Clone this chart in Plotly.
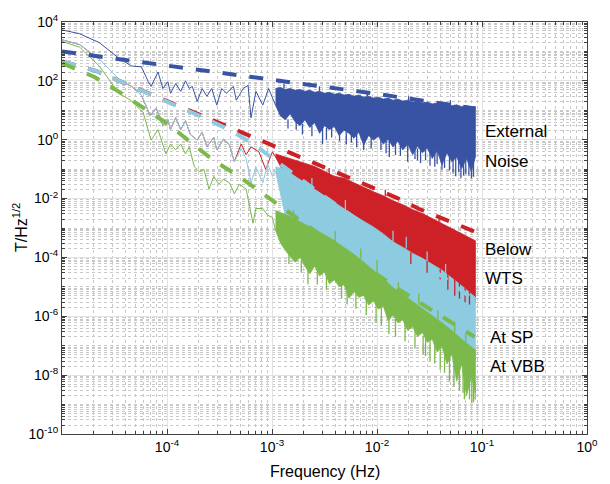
import plotly.graph_objects as go

# ---------------- data (frequency in Hz, amplitude in T/Hz^1/2) ----------------
# thin low-frequency parts of the spectra
blue_line_f = [1.0e-5, 1.47e-5, 2.26e-5, 3.48e-5, 4.59e-5, 5.70e-5, 6.62e-5, 7.06e-5, 8.21e-5, 9.14e-5,
               1.02e-4, 1.08e-4, 1.21e-4, 1.35e-4, 1.50e-4, 1.63e-4, 1.74e-4, 1.94e-4, 2.16e-4, 2.40e-4,
               2.67e-4, 2.98e-4, 3.32e-4, 3.69e-4, 4.29e-4, 4.57e-4, 5.32e-4, 5.92e-4, 6.31e-4, 7.03e-4,
               8.17e-4, 9.29e-4, 1.08e-3]
blue_line_v = [5400, 4000, 2000, 590, 320, 300, 95, 65, 200, 55,
               93, 38, 81, 44, 100, 55, 65, 20, 55, 30,
               55, 15, 55, 38, 65, 22, 55, 70, 5.6, 44,
               15, 55, 15]

red_line_f = [1.0e-5, 1.47e-5, 2.26e-5, 3.63e-5, 4.59e-5, 5.70e-5, 6.92e-5, 7.87e-5, 9.14e-5, 1.02e-4,
              1.08e-4, 1.21e-4, 1.35e-4, 1.50e-4, 1.67e-4, 1.94e-4, 2.16e-4, 2.40e-4, 2.79e-4, 2.98e-4,
              3.46e-4, 3.94e-4, 4.38e-4, 5.09e-4, 5.67e-4, 6.31e-4, 7.50e-4, 8.71e-4, 1.01e-3, 1.08e-3]
red_line_v = [2500, 1700, 550, 100, 65, 33, 6.5, 12, 3.0, 4.8,
              2.2, 5.6, 2.2, 4.4, 1.5, 0.97, 1.8, 0.57, 1.2, 0.45,
              1.04, 0.66, 0.18, 0.71, 0.31, 0.57, 0.39, 0.098, 0.39, 0.26]

cyan_line_f = [1.0e-5, 1.47e-5, 2.26e-5, 3.63e-5, 4.59e-5, 5.70e-5, 6.92e-5, 7.87e-5, 9.14e-5, 1.02e-4,
               1.08e-4, 1.21e-4, 1.35e-4, 1.50e-4, 1.67e-4, 1.94e-4, 2.16e-4, 2.40e-4, 2.79e-4, 2.98e-4,
               3.46e-4, 3.94e-4, 4.38e-4, 5.09e-4, 5.67e-4, 6.31e-4, 7.03e-4, 8.17e-4, 9.09e-4, 1.01e-3,
               1.08e-3]
cyan_line_v = [2500, 1700, 550, 100, 65, 33, 6.5, 12, 3.0, 4.8,
               2.2, 5.6, 2.2, 4.4, 1.5, 0.97, 1.8, 0.57, 1.2, 0.45,
               1.04, 0.66, 0.18, 0.49, 0.23, 0.034, 0.12, 0.034, 0.15, 0.057,
               0.084]

green_line_f = [1.0e-5, 1.47e-5, 2.26e-5, 3.48e-5, 4.59e-5, 5.94e-5, 7.06e-5, 8.21e-5, 9.75e-5, 1.08e-4,
                1.21e-4, 1.35e-4, 1.50e-4, 1.63e-4, 1.82e-4, 2.02e-4, 2.25e-4, 2.51e-4, 2.79e-4, 3.11e-4,
                3.46e-4, 3.94e-4, 4.38e-4, 4.88e-4, 5.67e-4, 6.05e-4, 6.59e-4, 7.03e-4, 8.17e-4, 9.09e-4,
                1.01e-3, 1.08e-3]
green_line_v = [2200, 1400, 320, 38, 21, 8.2, 0.97, 2.2, 0.33, 0.71,
                0.45, 0.71, 0.33, 0.57, 0.12, 0.084, 0.098, 0.021, 0.057, 0.031,
                0.046, 0.034, 0.0145, 0.031, 0.021, 7.3e-3, 1.46e-3, 4.6e-3, 4.6e-3, 2.7e-3,
                2.3e-3, 8.6e-4]

# dense high-frequency parts: envelopes
band_f = [1.08e-3, 1.34e-3, 1.66e-3, 2.06e-3, 2.55e-3, 3.16e-3, 3.92e-3, 4.86e-3, 6.03e-3, 7.47e-3,
          9.26e-3, 1.15e-2, 1.42e-2, 1.76e-2, 2.19e-2, 2.71e-2, 3.36e-2, 4.16e-2, 5.16e-2, 6.40e-2,
          8.65e-2]
fine_f = [1.08e-3, 1.20e-3, 1.34e-3, 1.49e-3, 1.66e-3, 1.85e-3, 2.06e-3, 2.29e-3, 2.55e-3, 2.84e-3,
          3.16e-3, 3.52e-3, 3.92e-3, 4.36e-3, 4.86e-3, 5.41e-3, 6.03e-3, 6.71e-3, 7.47e-3, 8.32e-3,
          9.26e-3, 1.03e-2, 1.15e-2, 1.28e-2, 1.42e-2, 1.58e-2, 1.76e-2, 1.96e-2, 2.19e-2, 2.43e-2,
          2.71e-2, 3.02e-2, 3.36e-2, 3.74e-2, 4.16e-2, 4.64e-2, 5.16e-2, 5.74e-2, 6.40e-2, 7.13e-2,
          7.93e-2, 8.65e-2]

blue_up_v = [55, 60, 51, 55, 48, 51, 44, 48, 41, 44,
             38, 41, 35, 38, 33, 35, 30, 33, 28, 30,
             26, 28, 24, 26, 22, 24, 20.5, 22, 19, 20.5,
             17.7, 19, 16.5, 17.7, 15.3, 16.5, 14.3, 15.3, 13.3, 14.3,
             12.4, 13.3]
blue_lo_v = [15, 6.5, 4.8, 7.6, 4.1, 3.0, 4.8, 2.6, 3.8, 1.65,
             3.0, 2.2, 2.8, 1.4, 2.1, 1.65, 1.13, 1.8, 0.66, 1.4,
             0.97, 1.3, 0.71, 1.04, 0.57, 0.89, 0.45, 0.71, 0.31, 0.61,
             0.36, 0.52, 0.23, 0.42, 0.14, 0.36, 0.18, 0.26, 0.105, 0.23,
             0.084, 0.26]
red_up_v = [0.33, 0.26, 0.20, 0.155, 0.123, 0.084, 0.057, 0.049, 0.034, 0.025,
            0.017, 0.0124, 8.5e-3, 6.2e-3, 4.2e-3, 3.1e-3, 2.1e-3, 1.46e-3, 1.0e-3, 6.8e-4, 3.7e-4]
red_lo_v = [0.26, 0.06, 0.031, 0.018, 0.0115, 6.5e-3, 3.9e-3, 2.3e-3, 1.46e-3, 9.0e-4,
            5.8e-4, 3.2e-4, 1.86e-4, 1.1e-4, 6.9e-5, 4.3e-5, 2.75e-5, 1.6e-5, 1.1e-5, 5.1e-6, 2.8e-6]
cyan_up_v = [0.12, 0.098, 0.057, 0.034, 0.021, 0.0124, 7.3e-3, 4.3e-3, 2.7e-3, 1.7e-3,
             1.08e-3, 6.3e-4, 3.4e-4, 2.2e-4, 1.37e-4, 9.3e-5, 5.9e-5, 3.7e-5, 2.0e-5, 1.1e-5, 4.4e-6]
cyan_lo_v = [0.084, 2.5e-3, 1.08e-3, 6.8e-4, 4.7e-4, 2.7e-4, 1.7e-4, 1.0e-4, 5.9e-5, 3.2e-5,
             1.7e-5, 8.8e-6, 4.4e-6, 2.8e-6, 1.5e-6, 8.8e-7, 5.2e-7, 2.8e-7, 1.5e-7, 7.7e-8, 3.3e-8]
green_up_v = [3.9e-3, 2.9e-3, 2.0e-3, 1.35e-3, 9.3e-4, 5.9e-4, 3.7e-4, 2.2e-4, 1.27e-4, 6.9e-5,
              3.7e-5, 1.9e-5, 9.5e-6, 5.5e-6, 3.3e-6, 1.9e-6, 1.1e-6, 6.0e-7, 3.3e-7, 1.65e-7, 7.1e-8]
green_lo_v = [8.6e-4, 3.2e-4, 1.72e-4, 1.09e-4, 6.9e-5, 1.0e-4, 5.1e-5, 2.75e-5, 5.1e-5, 2.36e-5,
              3.2e-5, 1.28e-5, 1.74e-5, 1.02e-5, 1.19e-5, 4.1e-6, 7.0e-6, 4.4e-6, 5.1e-6, 2.4e-6,
              3.3e-6, 1.77e-6, 2.2e-6, 7.0e-7, 1.11e-6, 6.0e-7, 7.6e-7, 3.3e-7, 4.45e-7, 2.07e-7,
              2.8e-7, 1.31e-7, 1.65e-7, 6.1e-8, 9.6e-8, 2.4e-8, 5.2e-8, 6.2e-9, 2.4e-8, 2.0e-9,
              9.1e-9, 2.5e-9]

# narrow noise spikes (frequency, value inside the band, spike tip)
blue_spk_f = [1.30e-3, 1.42e-3, 1.70e-3, 1.95e-3, 2.40e-3, 2.83e-3, 3.03e-3, 3.30e-3, 3.70e-3, 4.40e-3,
              5.10e-3, 5.70e-3, 6.40e-3, 7.47e-3, 8.10e-3, 8.80e-3, 1.09e-2, 1.22e-2, 1.31e-2, 1.50e-2,
              1.67e-2, 1.96e-2, 2.00e-2, 2.30e-2, 2.43e-2, 2.60e-2, 2.90e-2, 3.20e-2, 3.55e-2, 3.74e-2,
              4.16e-2, 4.40e-2, 4.90e-2, 5.00e-2, 5.30e-2, 5.62e-2, 6.00e-2, 6.30e-2, 6.68e-2, 7.00e-2,
              7.50e-2, 7.94e-2, 8.30e-2]
blue_spk_base = [55, 5.0, 5.0, 3.5, 3.0, 44, 3.0, 2.5, 2.5, 2.0,
                 1.8, 1.6, 1.5, 1.4, 30, 1.2, 1.0, 0.90, 1.0, 0.80,
                 0.70, 0.70, 21, 0.55, 0.50, 0.50, 0.45, 0.40, 0.38, 0.40,
                 0.40, 0.33, 0.30, 15, 0.28, 0.30, 0.25, 0.25, 0.20, 0.22,
                 0.20, 0.20, 0.20]
blue_spk_tip = [80, 2.4, 2.2, 1.5, 1.3, 65, 0.71, 1.0, 1.2, 0.90,
                0.70, 0.80, 0.55, 0.45, 45, 0.50, 0.45, 0.35, 0.26, 0.30,
                0.28, 0.18, 30, 0.22, 0.20, 0.16, 0.20, 0.13, 0.12, 0.15,
                0.098, 0.11, 0.09, 22, 0.075, 0.057, 0.08, 0.05, 0.06, 0.07,
                0.06, 0.049, 0.055]
red_spk_f = [3.5e-3, 1.2e-2, 2.1e-2, 3.0e-2, 3.9e-2, 4.0e-2, 4.73e-2, 5.5e-2, 6.1e-2, 6.9e-2, 7.6e-2]
red_spk_base = [0.07, 0.012, 1.5e-4, 7.5e-5, 1.6e-3, 4.0e-5, 2.8e-5, 1.8e-5, 1.4e-5, 9.0e-6, 7.0e-6]
red_spk_tip = [0.11, 0.02, 6.0e-5, 3.0e-5, 2.6e-3, 1.8e-5, 8.0e-6, 5.0e-6, 4.0e-6, 3.0e-6, 2.5e-6]
cyan_spk_f = [2.4e-3, 5.0e-3, 1.42e-2, 1.9e-2, 3.0e-2, 4.5e-2]
cyan_spk_base = [0.023, 4.0e-3, 3.4e-4, 2.0e-4, 7.5e-5, 3.0e-5]
cyan_spk_tip = [0.05, 9.0e-3, 8.0e-4, 5.0e-4, 1.6e-4, 6.0e-5]
green_spk_f = [1.45e-3, 1.6e-3, 1.9e-3, 2.2e-3, 2.7e-3, 3.3e-3, 4.0e-3, 4.6e-3, 5.2e-3, 6.3e-3,
               7.0e-3, 7.9e-3, 9.8e-3, 1.0e-2, 1.1e-2, 1.3e-2, 1.5e-2, 1.6e-2, 1.85e-2, 2.3e-2,
               2.5e-2, 2.75e-2, 2.9e-2, 3.2e-2, 3.55e-2, 3.8e-2, 4.0e-2, 4.4e-2, 4.9e-2, 5.4e-2,
               5.5e-2, 6.1e-2, 6.6e-2, 6.8e-2, 7.0e-2, 7.6e-2, 8.0e-2, 8.3e-2, 8.6e-2]
green_spk_base = [1.5e-4, 2.0e-3, 8.0e-5, 4.0e-5, 4.0e-5, 2.5e-5, 3.5e-4, 1.3e-5, 8.0e-6, 6.0e-6,
                  9.0e-5, 4.0e-6, 2.5e-6, 3.0e-5, 2.0e-6, 1.0e-6, 8.0e-7, 7.0e-6, 6.0e-7, 3.5e-7,
                  2.5e-6, 2.2e-7, 2.0e-7, 1.5e-7, 1.2e-7, 8.0e-7, 8.0e-8, 5.0e-8, 4.0e-8, 3.0e-8,
                  2.8e-7, 2.0e-8, 1.5e-8, 1.5e-8, 1.3e-7, 1.0e-8, 8.0e-9, 8.0e-9, 6.0e-9]
green_spk_tip = [6.0e-5, 4.0e-3, 3.0e-5, 1.2e-5, 1.2e-5, 8.0e-6, 8.0e-4, 4.0e-6, 2.5e-6, 1.8e-6,
                 2.0e-4, 1.1e-6, 6.0e-7, 8.0e-5, 5.0e-7, 2.5e-7, 2.0e-7, 1.4e-5, 1.4e-7, 8.0e-8,
                 6.0e-6, 5.0e-8, 4.5e-8, 3.0e-8, 2.5e-8, 1.6e-6, 1.5e-8, 1.2e-8, 6.0e-9, 4.0e-9,
                 6.0e-7, 3.0e-9, 2.5e-9, 1.5e-9, 2.6e-7, 1.5e-9, 1.1e-9, 1.2e-9, 1.5e-9]

# dashed model curves
blue_dash_f = [1.0e-5, 1.0e-4, 1.0e-3, 1.0e-2, 8.6e-2]
blue_dash_v = [1000, 330, 107, 36, 11.5]
red_dash_f = [1.0e-5, 2.1e-5, 3.9e-5, 6.9e-5, 1.26e-4, 2.24e-4, 4.0e-4, 7.1e-4, 1.29e-3, 2.29e-3,
              3.6e-3, 1.58e-2, 2.5e-2, 4.5e-2, 8.5e-2]
red_dash_v = [460, 220, 85, 35, 14.5, 6.2, 2.6, 1.05, 0.44, 0.18,
              0.091, 0.0102, 4.5e-3, 1.95e-3, 7.6e-4]
cyan_dash_f = [1.0e-5, 2.1e-5, 3.9e-5, 6.9e-5, 1.26e-4, 2.19e-4, 4.0e-4, 6.9e-4, 1.07e-3, 1.9e-3,
               3.16e-3, 1.62e-2, 2.5e-2, 4.8e-2, 8.5e-2]
cyan_dash_v = [460, 220, 85, 35, 14.5, 5.8, 2.1, 0.65, 0.2, 0.045,
               0.0117, 1.95e-4, 7.9e-5, 1.6e-5, 3.5e-6]
green_dash_f = [1.0e-5, 2.04e-5, 3.47e-5, 6.2e-5, 1.05e-4, 1.7e-4, 2.8e-4, 4.8e-4, 8.1e-4, 1.35e-3,
                2.29e-3, 3.6e-3, 1.7e-2, 2.95e-2, 4.7e-2, 8.5e-2]
green_dash_v = [400, 135, 43, 11, 3.2, 0.78, 0.195, 0.058, 0.015, 4.3e-3,
                1.05e-3, 3.3e-4, 7.2e-6, 2.1e-6, 7.8e-7, 2.0e-7]

x_tick_vals = [1e-4, 1e-3, 1e-2, 1e-1, 1e0]
x_tick_text = ["10<sup>-4</sup>", "10<sup>-3</sup>", "10<sup>-2</sup>", "10<sup>-1</sup>", "10<sup>0</sup>"]
y_tick_vals = [1e4, 1e2, 1e0, 1e-2, 1e-4, 1e-6, 1e-8, 1e-10]
y_tick_text = ["10<sup>4</sup>", "10<sup>2</sup>", "10<sup>0</sup>", "10<sup>-2</sup>", "10<sup>-4</sup>",
               "10<sup>-6</sup>", "10<sup>-8</sup>", "10<sup>-10</sup>"]

labels = [("External", 0.8022, 0.7334), ("Noise", 0.8022, 0.6623),
          ("Below", 0.8022, 0.4479), ("WTS", 0.8022, 0.3768),
          ("At SP", 0.8116, 0.2346), ("At VBB", 0.8116, 0.1635)]

# ---------------- styling ----------------
BLUE = "#3953A4"
RED = "#CD2027"
CYAN = "#8CCBE0"
GREEN = "#7BB94A"
FONT = "Liberation Sans, Arial, Helvetica, sans-serif"
AX = "#404040"

fig = go.Figure()


def add_line(f, v, color, width=1.0, dash=None):
    fig.add_trace(go.Scatter(x=f, y=v, mode="lines", showlegend=False, hoverinfo="skip",
                             line=dict(color=color, width=width, dash=dash)))


def add_band(fu, vu, fl, vl, color):
    fig.add_trace(go.Scatter(x=list(fu) + list(fl)[::-1], y=list(vu) + list(vl)[::-1],
                             mode="lines", fill="toself", fillcolor=color, showlegend=False,
                             hoverinfo="skip", line=dict(color=color, width=0.8)))


def add_spikes(f, base, tip, color):
    xs, ys = [], []
    for a, b, c in zip(f, base, tip):
        xs += [a, a, None]
        ys += [b, c, None]
    fig.add_trace(go.Scatter(x=xs, y=ys, mode="lines", showlegend=False, hoverinfo="skip",
                             connectgaps=False, line=dict(color=color, width=1.3)))


add_line(blue_line_f, blue_line_v, BLUE)
add_band(fine_f, blue_up_v, fine_f, blue_lo_v, BLUE)
add_line(red_line_f, red_line_v, RED)
add_band(band_f, red_up_v, band_f, red_lo_v, RED)
add_line(cyan_line_f, cyan_line_v, CYAN)
add_band(band_f, cyan_up_v, band_f, cyan_lo_v, CYAN)
add_line(green_line_f, green_line_v, GREEN)
add_band(band_f, green_up_v, fine_f, green_lo_v, GREEN)

add_spikes(blue_spk_f, blue_spk_base, blue_spk_tip, BLUE)
add_spikes(red_spk_f, red_spk_base, red_spk_tip, RED)
add_spikes(cyan_spk_f, cyan_spk_base, cyan_spk_tip, CYAN)
add_spikes(green_spk_f, green_spk_base, green_spk_tip, GREEN)

DASH = "14px,13px"
add_line(blue_dash_f, blue_dash_v, BLUE, 4, DASH)
add_line(red_dash_f, red_dash_v, RED, 4, DASH)
add_line(cyan_dash_f, cyan_dash_v, CYAN, 4, DASH)
add_line(green_dash_f, green_dash_v, GREEN, 4, DASH)

x_minor = [m * 10.0 ** k for k in range(-5, 0) for m in range(2, 10)]
y_minor = [m * 10.0 ** k for k in range(-10, 4) for m in range(1, 10) if not (m == 1 and k % 2 == 0)]

common = dict(type="log", showline=True, linecolor=AX, linewidth=1, mirror="allticks",
              ticks="inside", ticklen=5, tickcolor=AX, tickwidth=1,
              showgrid=True, gridcolor="#e2e2e2", gridwidth=1, zeroline=False,
              tickfont=dict(family=FONT, size=14, color="black"))

fig.update_xaxes(range=[-5, 0], tickvals=x_tick_vals, ticktext=x_tick_text,
                 minor=dict(tickvals=x_minor, ticks="inside", ticklen=3, tickcolor=AX,
                            showgrid=True, gridcolor="#c8c8c8", griddash="dot", gridwidth=1),
                 **common)
fig.update_yaxes(range=[-10, 4], tickvals=y_tick_vals, ticktext=y_tick_text,
                 minor=dict(tickvals=y_minor, ticks="inside", ticklen=3, tickcolor=AX,
                            showgrid=True, gridcolor="#c8c8c8", griddash="dot", gridwidth=1),
                 **common)

annotations = []
for txt, xp, yp in labels:
    annotations.append(dict(text=txt, x=xp, y=yp, xref="paper", yref="paper", xanchor="left",
                            yanchor="middle", showarrow=False,
                            font=dict(family=FONT, size=17, color="black")))
annotations.append(dict(text="Frequency (Hz)", x=0.5, y=-0.09, xref="paper", yref="paper",
                        xanchor="center", yanchor="middle", showarrow=False,
                        font=dict(family=FONT, size=16, color="black")))
annotations.append(dict(text="T/Hz<sup>1/2</sup>", x=-0.080, y=0.5, xref="paper", yref="paper",
                        xanchor="center", yanchor="middle", textangle=-90, showarrow=False,
                        font=dict(family=FONT, size=16, color="black")))

fig.update_layout(width=610, height=484, margin=dict(l=62, r=12, t=12, b=50),
                  paper_bgcolor="white", plot_bgcolor="white",
                  font=dict(family=FONT, color="black"), annotations=annotations,
                  showlegend=False)

fig.write_html("out.html")
